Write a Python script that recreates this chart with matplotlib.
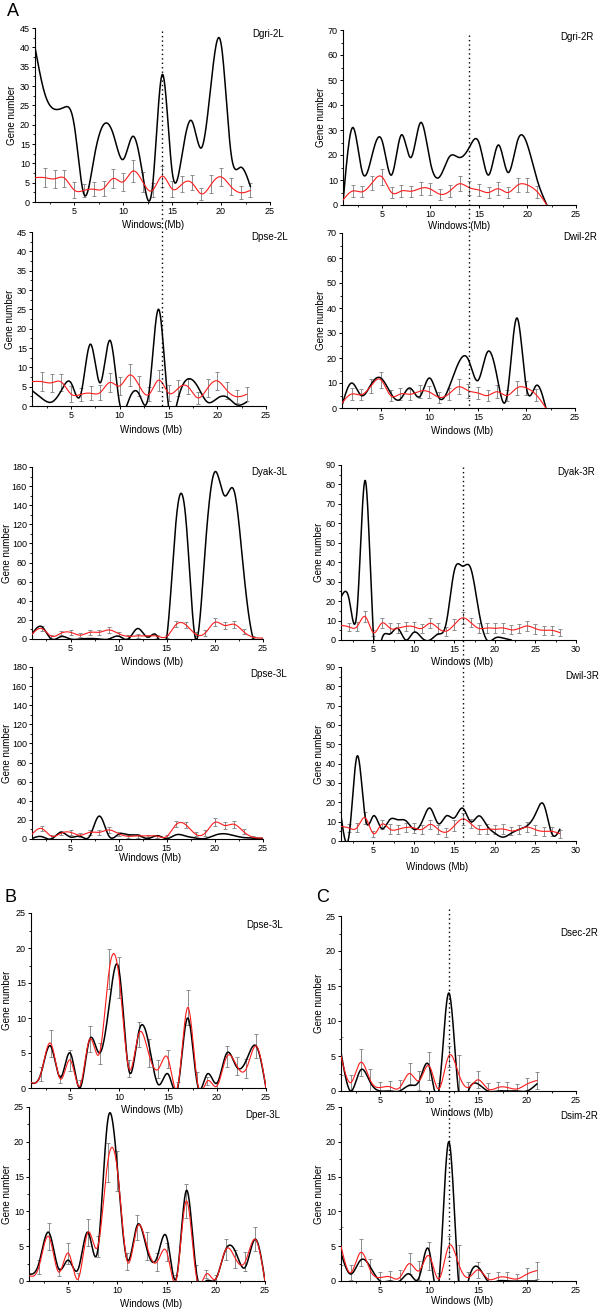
import numpy as np
import matplotlib
matplotlib.use('Agg')
import matplotlib.pyplot as plt
from matplotlib.ticker import MultipleLocator
from matplotlib import transforms
from matplotlib.lines import Line2D

plt.rcParams['font.family'] = ['Liberation Sans', 'DejaVu Sans']

# ---- data: gene numbers per 1 Mb window (black = observed, red = expected) ----
dgri_2L = [40, 28, 24, 24.5, 20, 2, 11, 20, 17.5, 11, 17, 7, 4, 33, 8, 12, 21, 14, 31, 41, 13, 9, 4]
dpse_2L = [4, 2, 1, 4, 6, 3, 16, 6, 17, 0.5, 2, 3, 3.5, 25, 0, 2, 7, 5, 1, 2, 2.3, 0.3, 1]
exp_2L = [6.3, 6.3, 6, 6.2, 3.1, 3, 3.3, 3.5, 6.1, 5.2, 8, 5.2, 3, 6.7, 3.4, 4.6, 5, 2.1, 4.6, 6.5, 4, 2.4, 3]
err_2L = [0, 2.5, 2.3, 2.2, 2, 1.7, 1.8, 1.9, 2.4, 2.3, 2.9, 2.6, 1.8, 2.7, 2, 2, 1.9, 1.6, 2.4, 2.4, 2.1, 1.7, 1.8]

dgri_2R = [1, 31, 13, 20, 26, 12, 28, 19, 33, 17, 11.5, 19.5, 19, 23, 25, 12, 24, 13, 26, 24, 10, 0]
dwil_2R = [1, 10, 5, 9.5, 12, 6, 3.5, 8, 4.5, 12, 4, 8, 18, 19.5, 11, 22.5, 12, 5, 36, 8, 9, 0]
exp_2R = [2, 5.6, 5.3, 8.9, 11.3, 5, 5.6, 5.5, 6.7, 6.4, 4.3, 5.6, 8.5, 6.9, 6, 5, 6.5, 5, 8, 8, 5.3, 0]
err_2R = [0, 2.5, 2.2, 2.8, 3.2, 2.3, 2.5, 2.3, 2.5, 2.5, 2.1, 2.4, 3, 2.8, 2.5, 2.3, 2.6, 2.2, 2.8, 2.8, 2.5, 0]

dyak_3L = [5, 13, 0, 2.5, 0, 0, 0.5, 0, 0, 3, 0, 11, 2, 3, 2, 127, 124, 0, 95, 175, 150, 155, 70, 0, 0]
dpse_3L = [0.5, 2.5, 0, 7, 2, 3, 3, 24, 3, 5, 4.5, 4, 0.5, 3.5, 0.5, 4.5, 3, 1, 0.5, 4, 5.5, 3.5, 1.5, 1, 0.5]
exp_3L = [5, 11, 3, 6, 7, 4, 7, 7, 9.5, 5.5, 2.8, 3.3, 3.2, 3, 2.7, 15.4, 14.7, 5, 6.3, 17.5, 14.2, 15.4, 7.5, 1.8, 1]
err_3L = [0, 3, 1.5, 2, 2.5, 1.8, 2.5, 2.5, 3, 2, 1.5, 1.8, 1.5, 1.5, 1.8, 3, 3.5, 2, 3, 4, 3.5, 3.5, 2.5, 1, 0]

dyak_3R = [22, 21, 16, 82, 3, 0, 3, 6, 0, 4, 1, 0, 3, 9, 36, 38, 37, 15, 0, 1, 1, 0]
dwil_3R = [13, 3, 44, 12, 13, 6.5, 11, 11, 10.5, 6, 10, 17, 9, 13, 12, 17, 10, 13, 8, 4, 2, 4, 6, 8, 14, 19, 4, 6]
exp_3R = [7.5, 6.7, 7, 12, 3.8, 8.6, 6.2, 6, 7, 6.8, 6, 8.6, 6, 4.6, 8, 11.4, 9, 6, 6.2, 6, 6.2, 5.2, 6, 7.2, 5.8, 5, 5, 3.8]
err_3R = [0, 2, 2.5, 3, 1.5, 2.5, 2.5, 2.5, 2.5, 2.5, 2.3, 2.5, 2.5, 2.3, 3, 3, 2.5, 2.5, 2.5, 2.5, 2.5, 2.3, 2.3, 2.5, 2.5, 2.3, 2.2, 2]

dpse_B = [0.7, 2, 6, 1.5, 5, 0, 7, 5, 12, 16.8, 2.5, 8, 6.5, 0.5, 2, 0.2, 10, 0.5, 2, 0.7, 5, 3, 4, 6, 0]
dper_B = [1, 2.5, 7, 1.8, 3, 1.7, 7, 4.5, 23, 16, 3, 8, 4.5, 3.3, 6.3, 0.5, 13, 1.5, 0, 0.3, 4.5, 4.2, 2, 6, 0]
exp_B = [0.8, 2, 6.4, 1.3, 4, 0.3, 7, 5, 17, 15.8, 2.8, 7.7, 5, 2.7, 4.2, 0.3, 11.5, 0.8, 1, 0.3, 4.5, 3.2, 2.8, 6, 0]
err_B = [0, 1, 1.9, 0.6, 1.5, 0.8, 1.9, 1.5, 2.8, 2.9, 1.2, 1.8, 2, 1.3, 1.3, 0.5, 2.5, 1.5, 0.6, 0.5, 1.5, 1.3, 1.3, 1.7, 0]

dsec_C = [5.5, 0, 3, 1.2, 0, 0, 0, 0.8, 1.5, 3.6, 0.2, 14, 0, 0, 1, 0, 0, 0, 0, 0, 1]
dsim_C = [4, 1, 3, 2, 0, 0, 0, 1, 0.6, 4.4, 0, 20, 0, 0, 2, 0, 0, 0, 0, 0, 0]
exp_C = [5, 1.2, 4.1, 1.5, 0.5, 0.6, 0.5, 2.5, 1.5, 3.6, 0.3, 5, 2.5, 0.5, 1.6, 0.3, 0.5, 0.5, 0.3, 1, 1.5]
err_C = [2.7, 1.1, 1.9, 1.6, 0.8, 0.8, 1.1, 1.5, 1.4, 2, 0.8, 1.5, 2.7, 0.8, 1.2, 0.8, 0.8, 0.8, 0.7, 0.9, 1.2]

W, H = 600, 1310
fig = plt.figure(figsize=(W / 100, H / 100), dpi=100)


def smooth(y, n=600):
    # natural cubic spline through the window values (x = 1, 2, 3, ...)
    y = np.asarray(y, float)
    x = np.arange(1, len(y) + 1, dtype=float)
    m = len(x)
    A = np.zeros((m, m))
    b = np.zeros(m)
    A[0, 0] = A[-1, -1] = 1
    for i in range(1, m - 1):
        A[i, i - 1], A[i, i], A[i, i + 1] = 1, 4, 1
        b[i] = 3 * (y[i + 1] - 2 * y[i] + y[i - 1])
    c = np.linalg.solve(A, b)
    xs = np.linspace(x[0], x[-1], n)
    k = np.clip(np.searchsorted(x, xs) - 1, 0, m - 2)
    dx = xs - x[k]
    bb = (y[k + 1] - y[k]) - (2 * c[k] + c[k + 1]) / 3
    d = (c[k + 1] - c[k]) / 3
    return xs, y[k] + bb * dx + c[k] * dx ** 2 + d * dx ** 3


def panel(box, black, red, err, ymax, ystep, xmax, title, tpos, ylab_x, xlab):
    l, t, r, b = box
    ax = fig.add_axes([l / W, 1 - b / H, (r - l) / W, (b - t) / H])
    xs, ys = smooth(black)
    ax.plot(xs, ys, color='black', lw=1.1, zorder=3)
    xr, yr = smooth(red)
    ax.plot(xr, yr, color='#ff1a1a', lw=0.8, zorder=4)
    wx = np.arange(1, len(red) + 1)
    e = np.asarray(err, float)
    m = e > 0
    ax.errorbar(wx[m], np.asarray(red, float)[m], yerr=e[m], fmt='none',
                ecolor='#8c8c8c', elinewidth=0.7, capsize=1.6, capthick=0.7, zorder=2)
    ax.set_xlim(1, xmax)
    ax.set_ylim(0, ymax)
    ax.set_xticks(np.arange(5, xmax + 1, 5))
    ax.xaxis.set_minor_locator(MultipleLocator(2.5))
    ax.set_yticks(np.arange(0, ymax + 1, ystep))
    ax.yaxis.set_minor_locator(MultipleLocator(ystep / 2))
    for s in ['top', 'right']:
        ax.spines[s].set_visible(False)
    for s in ['left', 'bottom']:
        ax.spines[s].set_linewidth(0.8)
    ax.tick_params(which='major', length=2.5, width=0.7, labelsize=6.5, pad=1.2)
    ax.tick_params(which='minor', length=1.5, width=0.6)
    ax.patch.set_alpha(0)
    fig.text(tpos[0] / W, 1 - tpos[1] / H, title, ha='right', va='center', fontsize=7)
    fig.text(ylab_x / W, 1 - (t + b) / 2 / H, 'Gene number', rotation=90,
             ha='center', va='center', fontsize=7)
    fig.text(xlab[0] / W, 1 - xlab[1] / H, 'Windows (Mb)', ha='center', va='center', fontsize=7)
    return ax


def dotted(ax, xval, y0, y1):
    tr = transforms.blended_transform_factory(ax.transData, fig.transFigure)
    fig.add_artist(Line2D([xval, xval], [1 - y0 / H, 1 - y1 / H], transform=tr,
                          color='black', lw=1.0, linestyle=(0, (1, 2.2)), zorder=10))


a1 = panel((35, 28, 270, 202), dgri_2L, exp_2L, err_2L, 45, 5, 25, 'Dgri-2L', (284, 34), 12, (153, 225))
a2 = panel((343, 30, 576, 205), dgri_2R, exp_2R, err_2R, 70, 10, 25, 'Dgri-2R', (594, 37), 321, (459, 226))
a3 = panel((32, 232, 266, 406), dpse_2L, exp_2L, err_2L, 45, 5, 25, 'Dpse-2L', (288, 237), 10, (151, 430))
a4 = panel((342, 233, 575, 408), dwil_2R, exp_2R, err_2R, 70, 10, 25, 'Dwil-2R', (597, 237), 321, (462, 431))
a5 = panel((32, 467, 263, 639), dyak_3L, exp_3L, err_3L, 180, 20, 25, 'Dyak-3L', (287, 472), 7, (152, 662))
a6 = panel((341, 465, 576, 640), dyak_3R, exp_3R, err_3R, 90, 10, 30, 'Dyak-3R', (595, 472), 319, (462, 662))
a7 = panel((32, 667, 263, 839), dpse_3L, exp_3L, err_3L, 180, 20, 25, 'Dpse-3L', (287, 674), 7, (150, 858))
a8 = panel((341, 667, 576, 841), dwil_3R, exp_3R, err_3R, 90, 10, 30, 'Dwil-3R', (599, 676), 319, (437, 867))
a9 = panel((31, 913, 266, 1088), dpse_B, exp_B, err_B, 25, 5, 25, 'Dpse-3L', (283, 925), 7, (152, 1110))
a10 = panel((29, 1107, 265, 1281), dper_B, exp_B, err_B, 25, 5, 25, 'Dper-3L', (280, 1115), 7, (151, 1304))
a11 = panel((341, 916, 576, 1091), dsec_C, exp_C, err_C, 25, 5, 25, 'Dsec-2R', (598, 933), 319, (462, 1113))
a12 = panel((341, 1107, 576, 1281), dsim_C, exp_C, err_C, 25, 5, 25, 'Dsim-2R', (598, 1116), 319, (462, 1301))

dotted(a1, 14, 31, 406)
dotted(a2, 14, 35, 408)
dotted(a6, 16, 467, 841)
dotted(a11, 12, 909, 1281)

fig.text(13 / W, 1 - 12 / H, 'A', ha='center', va='center', fontsize=13)
fig.text(11 / W, 1 - 897 / H, 'B', ha='center', va='center', fontsize=13)
fig.text(323 / W, 1 - 897 / H, 'C', ha='center', va='center', fontsize=13)

fig.savefig('out.png', dpi=100)
